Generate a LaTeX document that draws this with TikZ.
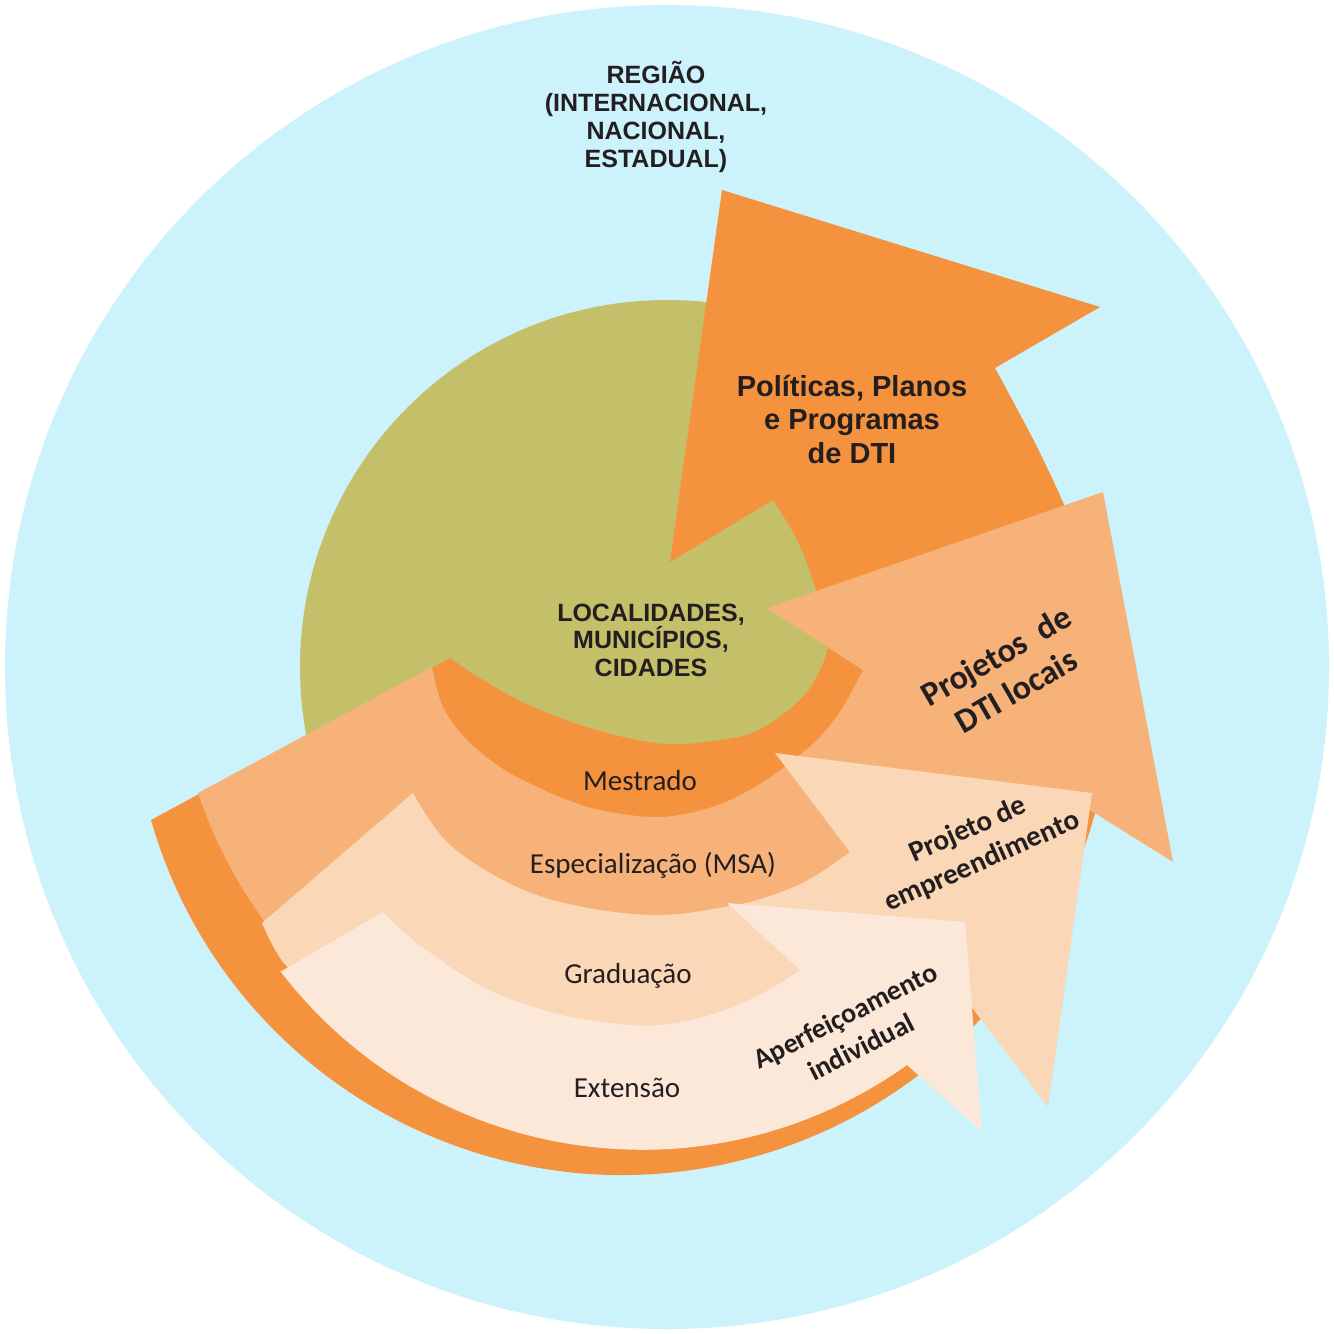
\documentclass[tikz,border=0pt]{standalone}
\usepackage{fontspec}
\newfontfamily\arialf{Liberation Sans}
\newfontfamily\calf{Carlito}
\definecolor{cBlue}{RGB}{204,242,252}
\definecolor{cOlive}{RGB}{196,191,105}
\definecolor{cA}{RGB}{245,146,62}
\definecolor{cB}{RGB}{247,178,122}
\definecolor{cC}{RGB}{250,215,183}
\definecolor{cD}{RGB}{252,232,217}
\definecolor{cText}{RGB}{35,31,32}
\begin{document}
\begin{tikzpicture}[x=1pt,y=-1pt,
  headlbl/.style={text=cText, align=center, inner sep=0pt, font=\arialf\bfseries\fontsize{25}{28}\selectfont},
  bandlbl/.style={text=cText, inner sep=0pt, anchor=base, font=\calf\fontsize{29}{32}\selectfont},
  arrowlbl/.style={text=cText, align=center, inner sep=0pt, font=\calf\bfseries\fontsize{28}{35}\selectfont},
  sm/.style={smooth, tension=0.6}]
\useasboundingbox (0,0) rectangle (1334,1334);
\fill[white] (0,0) rectangle (1334,1334);
\fill[cBlue] (667,667) circle[radius=662];
\fill[cOlive] (667,667) circle[radius=367];
% Arrow A : Politicas / Mestrado
\fill[cA] (151,820) arc[start angle=164, end angle=-10, radius=490]
  -- plot[sm] coordinates {(1104.6,600) (1080,545) (1062,500) (1040,453) (1023,420) (995,368)}
  -- (1100,307) -- (722,190) -- (670,562) -- (773,500)
  -- plot[sm] coordinates {(773,500) (790,527) (803,553) (815,587) (824,620) (827,650) (815,680) (800,700) (778,718) (752,733) (720,740) (665,744) (600,731) (533,707) (483,680) (450,658)} -- cycle;
% Arrow B : Projetos de DTI locais / Especializacao
\fill[cB] (198,793) arc[start angle=161.3, end angle=25, radius=477]
  -- (1075,800.7) -- (1173,862) -- (1103,492) -- (767,608) -- (863,670)
  -- plot[sm] coordinates {(863,670) (843,707) (820,737) (793,760) (760,784) (715,806) (660,817) (600,810) (560,797) (527,782) (500,767) (467,740) (443,707) (432,667)} -- cycle;
% Arrow C : Projeto de empreendimento / Graduacao
\fill[cC] (262,923) -- (413,793)
  -- plot[sm] coordinates {(413,793) (450,845) (517,887) (583,907) (660,915) (730,906) (770,896) (810,879) (850,852)}
  -- (775,753) -- (1092,793) -- (1048,1107) -- (970,1005)
  -- plot[sm] coordinates {(970,1005) (920,1045) (850,1075) (760,1105) (660,1120) (560,1112) (460,1085) (380,1040) (320,995) (283,962) (262,923)} -- cycle;
% Arrow D : Aperfeicoamento individual / Extensao
\fill[cD] (280,972) -- (383,912)
  -- plot[sm] coordinates {(383,912) (417,943) (483,987) (550,1012) (610,1023) (660,1025) (713,1014) (763,993) (800,970)}
  -- (727,903) -- (965,922) -- (982,1132) -- (907,1065)
  arc[start angle=54.5, end angle=142.5, radius=456] -- cycle;
% Labels
\node[headlbl] (regiao) at (656,117) {REGIÃO\\(INTERNACIONAL,\\NACIONAL,\\ESTADUAL)};
\node[headlbl, font=\arialf\bfseries\fontsize{25}{27.5}\selectfont] (local) at (651,640) {LOCALIDADES,\\MUNICÍPIOS,\\CIDADES};
\node[headlbl, font=\arialf\bfseries\fontsize{29}{33.5}\selectfont] (politicas) at (852,419) {Políticas, Planos\\e Programas\\de DTI};
\node[bandlbl] (mestrado) at (640,790) {Mestrado};
\node[bandlbl] (espec) at (653,873) {Especialização (MSA)};
\node[bandlbl] (grad) at (628,983) {Graduação};
\node[bandlbl] (ext) at (627,1097) {Extensão};
\node[arrowlbl, font=\calf\bfseries\fontsize{34}{40}\selectfont, rotate=30] (projdti) at (1006,673) {Projetos\hspace{0.45em}de\\DTI locais};
\node[arrowlbl, font=\calf\bfseries\fontsize{29}{35}\selectfont, rotate=24] (projemp) at (975,846) {Projeto de\\empreendimento};
\node[arrowlbl, rotate=27] (aperf) at (853,1031) {Aperfeiçoamento\\individual};
\end{tikzpicture}
\end{document}
